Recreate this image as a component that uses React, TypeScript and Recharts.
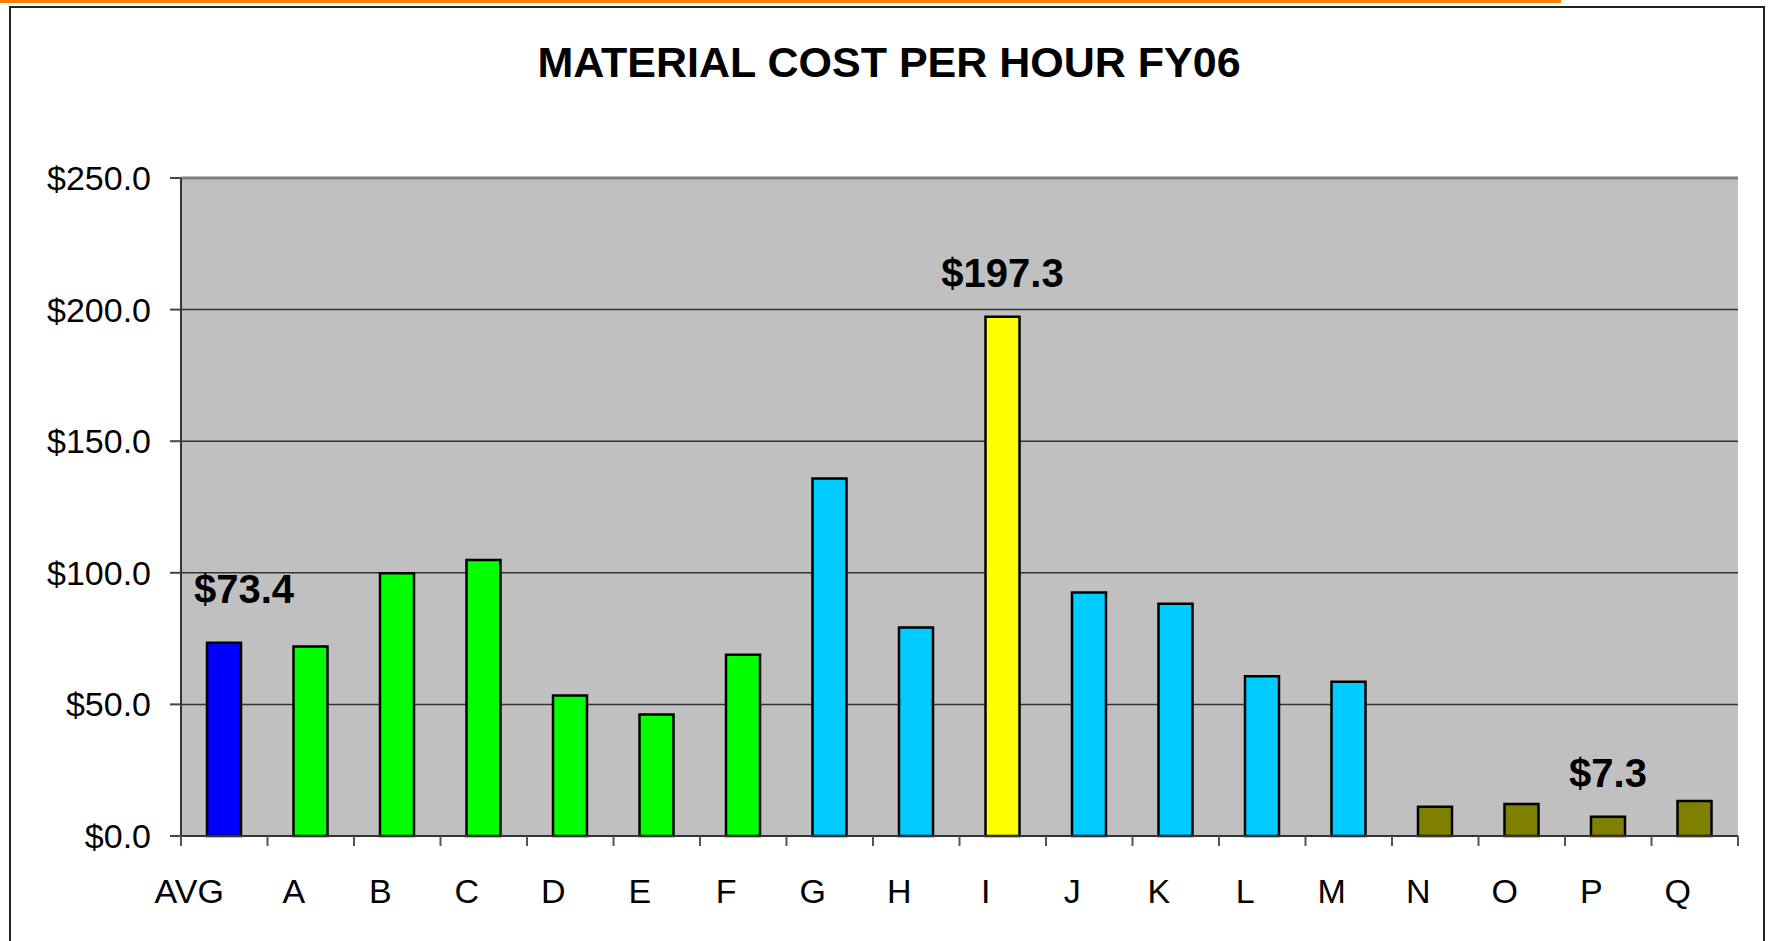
import React from "react";
import { Bar, BarChart, CartesianGrid, Cell, LabelList, ReferenceLine, XAxis, YAxis } from "recharts";

const categories = ["AVG", "A", "B", "C", "D", "E", "F", "G", "H", "I", "J", "K", "L", "M", "N", "O", "P", "Q"];
const costs = [73.4, 72.0, 99.8, 104.9, 53.4, 46.2, 68.9, 135.8, 79.2, 197.3, 92.5, 88.2, 60.7, 58.6, 11.1, 12.2, 7.3, 13.3];
const groups = [
  "average",
  "green", "green", "green", "green", "green", "green",
  "blue", "blue", "highest", "blue", "blue", "blue", "blue",
  "olive", "olive", "olive", "olive",
];
const labelledCategories = ["AVG", "I", "P"];
const yTicks = [0, 50, 100, 150, 200, 250];

const groupColors: Record<string, string> = {
  average: "#0000FF",
  green: "#00FF00",
  blue: "#00CCFF",
  highest: "#FFFF00",
  olive: "#808000",
};

const FONT = "'Liberation Sans', Arial, sans-serif";
const LABEL_GAP = 67;
const EDGE_TICK = 10;

const data = categories.map((name, i) => ({ name, cost: costs[i], group: groups[i] }));

const formatMoney = (v: number) => `$${v.toFixed(1)}`;

// Excel-style axis: tick marks between categories, labels a bit left of centre
function CategoryTick({ x, y, payload, index, width }: any) {
  const cx = Number(x);
  const axisY = Number(y) - LABEL_GAP;
  const half =
    typeof payload.offset === "number" && payload.offset > 0
      ? payload.offset
      : Number(width) / categories.length / 2;
  const shift = index === 0 ? -35 : -17;
  const last = index === categories.length - 1;
  return (
    <g>
      <line x1={cx - half} x2={cx - half} y1={axisY} y2={axisY + EDGE_TICK} stroke="#555" strokeWidth={2} />
      {last && (
        <line x1={cx + half} x2={cx + half} y1={axisY} y2={axisY + EDGE_TICK} stroke="#555" strokeWidth={2} />
      )}
      <text x={cx + shift} y={y} textAnchor="middle" fontSize={34} fontFamily={FONT} fill="#000">
        {payload.value}
      </text>
    </g>
  );
}

function CostLabel(props: any) {
  const { x, y, width, value } = props;
  const index = typeof props.index === "number" ? props.index : costs.indexOf(Number(value));
  if (!labelledCategories.includes(categories[index])) return null;
  const first = index === 0;
  return (
    <text
      x={Number(x) + Number(width) / 2 + (first ? 20 : 0)}
      y={Number(y) - (first ? 40 : 30)}
      textAnchor="middle"
      fontSize={40}
      fontWeight="bold"
      fontFamily={FONT}
      fill="#000"
    >
      {formatMoney(Number(value))}
    </text>
  );
}

export default function App() {
  return (
    <div
      style={{
        position: "absolute",
        left: 0,
        top: 0,
        width: 1770,
        height: 941,
        overflow: "hidden",
        background: "#fff",
        fontFamily: FONT,
      }}
    >
      <div style={{ position: "absolute", left: 0, top: 0, width: 1561, height: 3, background: "#FF7F00" }} />
      <div
        style={{
          position: "absolute",
          left: 9,
          top: 6,
          width: 1756,
          height: 1000,
          boxSizing: "border-box",
          border: "2px solid #222",
        }}
      />
      <div
        style={{
          position: "absolute",
          left: 0,
          top: 41,
          width: 1778,
          textAlign: "center",
          fontSize: 43,
          lineHeight: "43px",
          fontWeight: "bold",
          color: "#000",
        }}
      >
        MATERIAL COST PER HOUR FY06
      </div>
      <div style={{ position: "absolute", left: 0, top: 0 }}>
        <BarChart width={1770} height={941} data={data} margin={{ top: 178, right: 32, bottom: 0, left: 0 }}>
          <CartesianGrid fill="#C0C0C0" stroke="#333" strokeWidth={1.5} vertical={false} />
          <XAxis
            dataKey="name"
            height={105}
            interval={0}
            tickSize={0}
            tickMargin={LABEL_GAP}
            tickLine={false}
            axisLine={{ stroke: "#333", strokeWidth: 2 }}
            tick={<CategoryTick />}
          />
          <YAxis
            domain={[0, 250]}
            ticks={yTicks}
            width={181}
            tickSize={11}
            tickMargin={19}
            tickFormatter={formatMoney}
            tick={{ fill: "#000", fontSize: 34, fontFamily: FONT }}
            tickLine={{ stroke: "#444", strokeWidth: 2 }}
            axisLine={{ stroke: "#333", strokeWidth: 2 }}
          />
          <YAxis
            yAxisId="right"
            orientation="right"
            domain={[0, 250]}
            width={0}
            tick={false}
            tickLine={false}
            axisLine={{ stroke: "#808080", strokeWidth: 3 }}
          />
          <ReferenceLine y={250} stroke="#808080" strokeWidth={3} />
          <Bar dataKey="cost" barSize={34} stroke="#000" strokeWidth={2.5} isAnimationActive={false}>
            {data.map((d) => (
              <Cell key={d.name} fill={groupColors[d.group]} />
            ))}
            <LabelList dataKey="cost" content={<CostLabel />} />
          </Bar>
        </BarChart>
      </div>
    </div>
  );
}
